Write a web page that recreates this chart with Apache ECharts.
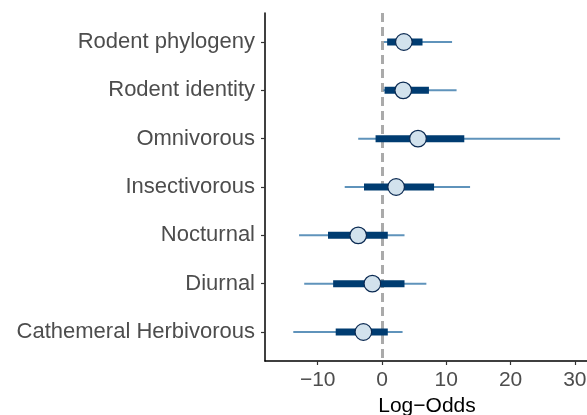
<!DOCTYPE html>
<html>
<head>
<meta charset="utf-8">
<script src="https://cdn.jsdelivr.net/npm/echarts@6/dist/echarts.min.js"></script>
<style>
html, body { margin: 0; padding: 0; background: #fff; }
#chart { width: 587px; height: 415px; }
</style>
</head>
<body>
<div id="chart"></div>
<script>
// rows, top to bottom
var categories = ['Rodent phylogeny', 'Rodent identity', 'Omnivorous', 'Insectivorous',
    'Nocturnal', 'Diurnal', 'Cathemeral Herbivorous'];
var estimate = [3.4, 3.3, 5.6, 2.2, -3.7, -1.5, -2.9];
var low50 = [0.8, 0.4, -1.0, -2.8, -8.4, -7.6, -7.2];
var high50 = [6.3, 7.3, 12.8, 8.1, 0.9, 3.5, 0.9];
var low95 = [0.3, 0.2, -3.7, -5.8, -12.9, -12.1, -13.8];
var high95 = [10.9, 11.6, 27.7, 13.7, 3.5, 6.9, 3.2];
var xTicks = [-10, 0, 10, 20, 30];

var rows = categories.map(function (c, i) {
    return [i, low95[i], low50[i], estimate[i], high50[i], high95[i]];
});

var minus = function (v) { return String(v).replace('-', '\u2212'); };

var chart = echarts.init(document.getElementById('chart'), null, { renderer: 'canvas' });

chart.setOption({
    animation: false,
    grid: { left: 265, right: -2, top: 13, bottom: 54, outerBoundsMode: 'none', containLabel: false },
    xAxis: {
        type: 'value',
        min: -18.2,
        max: 32.2,
        name: 'Log\u2212Odds',
        nameLocation: 'middle',
        nameGap: 35,
        nameTextStyle: { color: '#000', fontSize: 21, fontFamily: 'Liberation Sans' },
        splitLine: { show: false },
        axisLine: { show: true, onZero: false, lineStyle: { color: '#000', width: 1.5 } },
        axisTick: { show: true, length: 4, customValues: xTicks, lineStyle: { color: '#333', width: 1.2 } },
        axisLabel: {
            customValues: xTicks,
            color: '#4d4d4d', fontSize: 21, fontFamily: 'Liberation Sans', margin: 9,
            formatter: minus
        }
    },
    yAxis: {
        type: 'value',
        inverse: true,
        min: -0.6,
        max: 6.6,
        splitLine: { show: false },
        axisLine: { show: true, onZero: false, lineStyle: { color: '#000', width: 1.5 } },
        axisTick: { show: true, length: 4, customValues: [0, 1, 2, 3, 4, 5, 6], lineStyle: { color: '#333', width: 1.2 } },
        axisLabel: {
            customValues: [0, 1, 2, 3, 4, 5, 6],
            color: '#4d4d4d', fontSize: 22, fontFamily: 'Liberation Sans', margin: 10,
            formatter: function (v) { return categories[Math.round(v)]; }
        }
    },
    series: [{
        type: 'custom',
        data: rows,
        encode: { x: [1, 2, 3, 4, 5], y: 0 },
        renderItem: function (params, api) {
            var y = api.value(0);
            var a = api.coord([api.value(1), y]);
            var b = api.coord([api.value(2), y]);
            var c = api.coord([api.value(3), y]);
            var d = api.coord([api.value(4), y]);
            var e = api.coord([api.value(5), y]);
            return {
                type: 'group',
                children: [
                    { type: 'line', shape: { x1: a[0], y1: a[1], x2: e[0], y2: e[1] },
                      style: { stroke: '#5f93bb', lineWidth: 2 } },
                    { type: 'line', shape: { x1: b[0], y1: b[1], x2: d[0], y2: d[1] },
                      style: { stroke: '#003c71', lineWidth: 7 } },
                    { type: 'circle', shape: { cx: c[0], cy: c[1], r: 8.3 },
                      style: { fill: '#d2e2ed', stroke: '#0b2a52', lineWidth: 1.2 } }
                ]
            };
        },
        z: 3,
        markLine: {
            silent: true,
            symbol: 'none',
            label: { show: false },
            lineStyle: { color: '#aaaaaa', type: [9, 5], width: 3 },
            data: [{ xAxis: 0 }],
            z: 1
        }
    }]
});
</script>
</body>
</html>
